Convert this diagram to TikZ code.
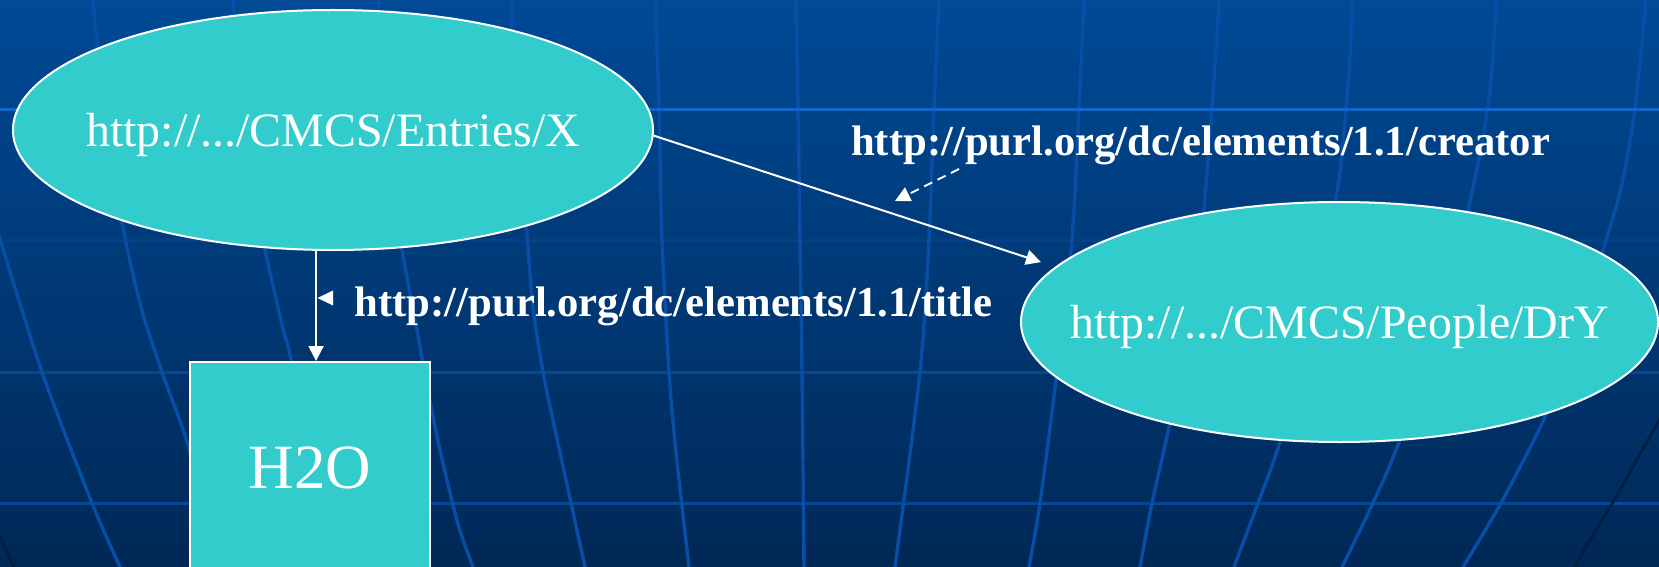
\documentclass[tikz,border=0pt]{standalone}
\usepackage{fontspec}
\setmainfont{Liberation Serif}
\usetikzlibrary{shapes.geometric,arrows.meta}

\definecolor{bgtop}{RGB}{0,74,150}
\definecolor{bgbot}{RGB}{0,40,86}
\definecolor{gridln}{RGB}{8,78,166}
\definecolor{gridhi}{RGB}{20,100,204}
\definecolor{gridmid}{RGB}{10,70,150}
\definecolor{gridfaint}{RGB}{6,64,136}
\definecolor{griddark}{RGB}{0,30,64}
\definecolor{nodefill}{RGB}{51,204,204}

\begin{document}
\begin{tikzpicture}[x=1bp,y=-1bp,
  gridline/.style={draw=gridln,line width=3.4bp},
  resource/.style={ellipse,fill=nodefill,draw=white,line width=2bp,text=white,
    inner xsep=-60bp,inner ysep=0pt,font=\fontsize{47.9bp}{56bp}\selectfont,text depth=0pt},
  literal/.style={rectangle,fill=nodefill,draw=white,line width=2bp,text=white,
    inner sep=0pt,font=\fontsize{63bp}{70bp}\selectfont,text depth=0pt},
  propname/.style={text=white,inner sep=0pt,anchor=base west,
    font=\fontsize{42.7bp}{50bp}\selectfont\bfseries},
  tip/.style={-{Triangle[length=15bp,width=15bp]}},
  edgeline/.style={draw=white,line width=2bp,tip},
  dashedge/.style={edgeline,dash pattern=on 9bp off 6bp}
]
\useasboundingbox (0,0) rectangle (1659,567);
\clip (0,0) rectangle (1659,567);

% backdrop
\shade[top color=bgtop,bottom color=bgbot] (0,0) rectangle (1659,567);

% horizontal rules of the grid
\draw[draw=gridfaint,line width=3bp] (0,240) -- (1659,240);
\draw[draw=gridmid,line width=3bp] (0,372) -- (1659,372);
\draw[draw=gridmid,line width=3bp] (0,503) -- (1659,503);

% curved meridians of the grid
\draw[gridline] plot[smooth] coordinates {(-10,205) (0,239) (42,372) (92,503) (120,567) (125,580)};
\draw[gridline] plot[smooth] coordinates {(93,0) (97,43) (105,110) (122,222) (141,307) (162,372) (190,452) (215,567)};
\draw[gridline] plot[smooth] coordinates {(233,0) (240,110) (255,200) (265,250) (282,325) (293,372) (320,567)};
\draw[gridline] plot[smooth] coordinates {(379,0) (384,110) (395,200) (402,250) (416,325) (428,390) (440,450) (458,524) (473,567)};
\draw[gridline] plot[smooth] coordinates {(511,0) (516,110) (522,200) (526,224) (533,307) (543,372) (556,434) (585,567)};
\draw[gridline] plot[smooth] coordinates {(655,0) (659,108) (662,239) (669,372) (676,452) (689,567)};
\draw[gridline] plot[smooth] coordinates {(796,0) (798,108) (800,239) (802,372) (804,567)};
\draw[gridline] plot[smooth] coordinates {(939,0) (934,108) (929,239) (920,372) (895,567)};
\draw[gridline] plot[smooth] coordinates {(1084,0) (1079,108) (1072,239) (1057,372) (1040,503) (1029,567)};
\draw[gridline] plot[smooth] coordinates {(1219,0) (1212,108) (1201,239) (1185,340) (1169,427) (1152,503) (1140,567)};
\draw[gridline] plot[smooth] coordinates {(1353,0) (1349,72) (1341,163) (1335,203) (1315,320) (1279,445) (1258,503) (1234,567)};
\draw[gridline] plot[smooth] coordinates {(1496,0) (1490,90) (1473,188) (1440,320) (1399,442) (1373,503) (1342,567)};
\draw[gridline] plot[smooth] coordinates {(1646,0) (1635,108) (1621,188) (1603,250) (1575,340) (1545,417) (1501,503) (1463,567)};
\draw[draw=griddark,line width=2.6bp] plot[smooth] coordinates {(1680,380) (1659,420) (1620,490) (1580,557) (1575,570)};
\draw[draw=griddark,line width=2.6bp] (-5,525) -- (14,567);

% the bright rule runs over the meridians
\draw[draw=gridhi,line width=3bp] (0,110) -- (1659,110);

% RDF graph
\node[resource,minimum width=640bp,minimum height=240bp] (entry) at (333,130) {http://.../CMCS/Entries/X};
\node[resource,minimum width=637bp,minimum height=240bp] (person) at (1339.5,322) {http://.../CMCS/People/DrY};
\node[literal,minimum width=240bp,minimum height=212bp] (water) at (310,468) {H2O};

\node[propname] (titlelbl) at (354.5,316.5) {http://purl.org/dc/elements/1.1/title};
\node[propname] (creatorlbl) at (851,156) {http://purl.org/dc/elements/1.1/creator};

% statements
\draw[edgeline] (entry.262.63) -- (entry.262.63 |- water.north);
\draw[edgeline,shorten >=15bp] (entry.-1.3) -- (person.169.8);

% pointers from property names to their edges
\coordinate (titlemark) at (333,298);
\fill[white] ([xshift=1.5bp]titlemark -| entry.262.63) -- ([yshift=-7.5bp]titlemark)
  -- ([yshift=7.5bp]titlemark) -- cycle;
\coordinate (creatorfrom) at (959,169);
\coordinate (creatorto) at (895,201);
\draw[dashedge] (creatorfrom) -- (creatorto);
\end{tikzpicture}
\end{document}
